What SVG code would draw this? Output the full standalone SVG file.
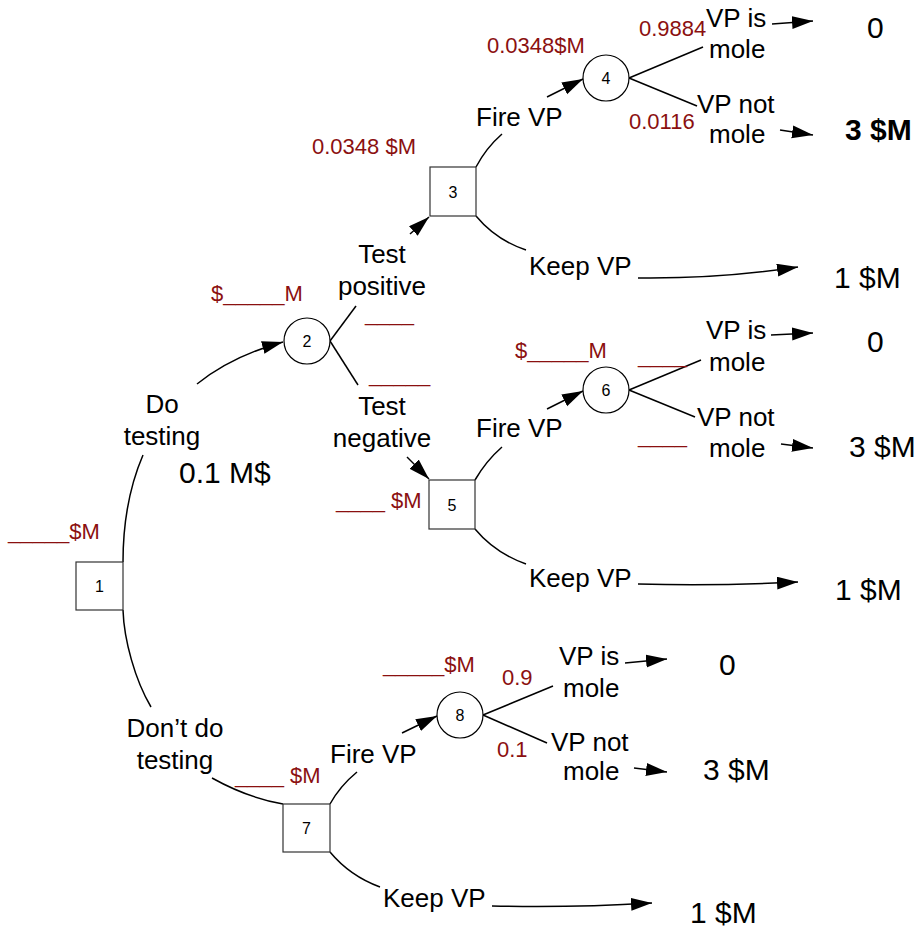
<svg xmlns="http://www.w3.org/2000/svg" width="921" height="930" viewBox="0 0 921 930">
<style>
text{font-family:"Liberation Sans",Arial,sans-serif;fill:#000}
.t{font-size:26px}
.v{font-size:30px}
.b{font-weight:bold}
.r{font-size:22px;fill:#8B1010}
.n{font-size:16px;text-anchor:middle}
.m{text-anchor:middle}
.shape{fill:#fff;stroke:#000;stroke-width:1.2}
.sq{fill:#fff;stroke:#333;stroke-width:1.2}
.c{fill:none;stroke:#000;stroke-width:1.5}
.a{fill:none;stroke:#000;stroke-width:1.5;marker-end:url(#ah)}
</style>
<defs>
<marker id="ah" markerUnits="userSpaceOnUse" markerWidth="24" markerHeight="16" refX="21" refY="6.5" orient="auto">
<path d="M0,0 L21,6.5 L0,13 z" fill="#000"/>
</marker>
</defs>
<rect width="921" height="930" fill="#fff"/>

<g id="connectors">
<path class="c" d="M123,562 C123,530 128,490 143,455"/>
<path class="a" d="M197,384 Q232,356 283,342"/>
<path class="c" d="M123,610 C124,640 135,680 151,707"/>
<path class="c" d="M212,778 Q248,798 283,804"/>
<path class="c" d="M330,341 L356,306"/>
<path class="c" d="M330,341 L358,385"/>
<path class="a" d="M410,234 L429,217"/>
<path class="a" d="M407,457 L429,479"/>
<path class="c" d="M476,167 Q486,148 502,134"/>
<path class="a" d="M547,97 L583,79"/>
<path class="c" d="M629,78 L703,47"/>
<path class="c" d="M629,78 L697,106"/>
<path class="a" d="M772,24 L813,21"/>
<path class="a" d="M780,130 L813,135"/>
<path class="c" d="M476,216 Q496,240 526,250"/>
<path class="a" d="M638,278 Q720,279 798,267"/>
<path class="c" d="M475,480 Q486,461 502,447"/>
<path class="a" d="M547,409 L583,391"/>
<path class="c" d="M629,390 L701,360"/>
<path class="c" d="M629,390 L695,417"/>
<path class="a" d="M771,335 L813,333"/>
<path class="a" d="M781,444 L813,448"/>
<path class="c" d="M475,529 Q495,553 526,564"/>
<path class="a" d="M638,584 Q720,586 798,582"/>
<path class="c" d="M330,804 Q340,786 357,772"/>
<path class="a" d="M402,733 L437,716"/>
<path class="c" d="M483,715 L553,686"/>
<path class="c" d="M483,715 L547,743"/>
<path class="a" d="M625,663 L667,659"/>
<path class="a" d="M634,768 L667,772"/>
<path class="c" d="M330,852 Q350,876 380,887"/>
<path class="a" d="M492,906 Q570,908 652,903"/>
</g>

<g id="node1">
<rect class="sq" x="76" y="562" width="47" height="48"/>
<text class="n" x="99.5" y="592">1</text>
<text class="r" x="8" y="539">_____$M</text>
</g>

<g id="node2">
<circle class="shape" cx="307" cy="341" r="23"/>
<text class="n" x="307" y="347">2</text>
<text class="r" x="211" y="301">$_____M</text>
<text class="r" x="365" y="321">____</text>
<text class="r" x="369" y="382">_____</text>
</g>

<g id="node3">
<rect class="sq" x="430" y="167" width="46" height="49"/>
<text class="n" x="453" y="198">3</text>
<text class="r" x="312" y="154">0.0348 $M</text>
</g>

<g id="node4">
<circle class="shape" cx="606" cy="78" r="23"/>
<text class="n" x="606" y="84">4</text>
<text class="r" x="487" y="53">0.0348$M</text>
<text class="r" x="639" y="36">0.9884</text>
<text class="r" x="629" y="129">0.0116</text>
</g>

<g id="node5">
<rect class="sq" x="429" y="480" width="46" height="49"/>
<text class="n" x="452" y="511">5</text>
<text class="r" x="336" y="508">____ $M</text>
</g>

<g id="node6">
<circle class="shape" cx="606" cy="390" r="23"/>
<text class="n" x="606" y="396">6</text>
<text class="r" x="515" y="358">$_____M</text>
<text class="r" x="638" y="363">____</text>
<text class="r" x="638" y="443">____</text>
</g>

<g id="node7">
<rect class="sq" x="283" y="804" width="47" height="48"/>
<text class="n" x="306.5" y="834">7</text>
<text class="r" x="235" y="783">____ $M</text>
</g>

<g id="node8">
<circle class="shape" cx="460" cy="715" r="23"/>
<text class="n" x="460" y="721">8</text>
<text class="r" x="383" y="672">_____$M</text>
<text class="r" x="502" y="685">0.9</text>
<text class="r" x="497" y="757">0.1</text>
</g>

<g id="labels">
<text class="t m" x="162" y="413">Do</text>
<text class="t m" x="162" y="445">testing</text>
<text class="v" x="179" y="483">0.1 M$</text>
<text class="t m" x="175" y="737">Don’t do</text>
<text class="t m" x="175" y="769">testing</text>
<text class="t m" x="382" y="263">Test</text>
<text class="t m" x="382" y="295">positive</text>
<text class="t m" x="382" y="415">Test</text>
<text class="t m" x="382" y="447">negative</text>
<text class="t" x="476" y="126">Fire VP</text>
<text class="t" x="706" y="27">VP is</text>
<text class="t" x="709" y="58">mole</text>
<text class="t" x="697" y="113">VP not</text>
<text class="t" x="709" y="143">mole</text>
<text class="v" x="867" y="38">0</text>
<text class="v b" x="845" y="140">3 $M</text>
<text class="t" x="529" y="275">Keep VP</text>
<text class="v" x="834" y="288">1 $M</text>
<text class="t" x="476" y="437">Fire VP</text>
<text class="t" x="706" y="339">VP is</text>
<text class="t" x="709" y="371">mole</text>
<text class="t" x="697" y="426">VP not</text>
<text class="t" x="709" y="457">mole</text>
<text class="v" x="867" y="352">0</text>
<text class="v" x="849" y="457">3 $M</text>
<text class="t" x="529" y="587">Keep VP</text>
<text class="v" x="835" y="600">1 $M</text>
<text class="t" x="330" y="763">Fire VP</text>
<text class="t" x="559" y="665">VP is</text>
<text class="t" x="563" y="697">mole</text>
<text class="t" x="551" y="751">VP not</text>
<text class="t" x="563" y="780">mole</text>
<text class="v" x="719" y="675">0</text>
<text class="v" x="703" y="780">3 $M</text>
<text class="t" x="383" y="907">Keep VP</text>
<text class="v" x="690" y="923">1 $M</text>
</g>
</svg>
